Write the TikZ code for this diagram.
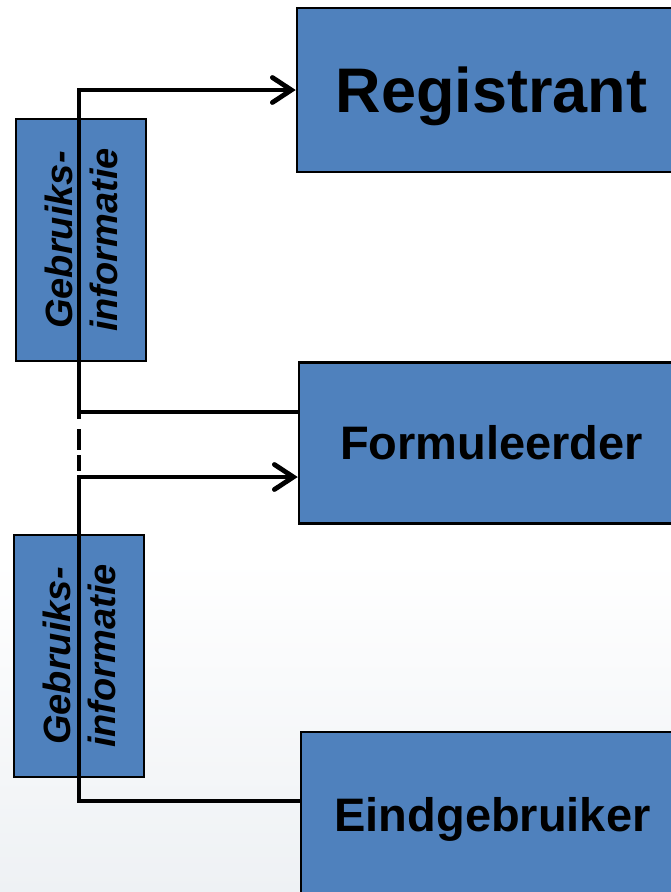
\documentclass[tikz,border=0pt]{standalone}
\usepackage{fontspec}
\setmainfont{Liberation Sans}
\usetikzlibrary{arrows.meta}
\definecolor{boxblue}{HTML}{4F81BD}
\definecolor{bggray}{HTML}{EEF1F4}
\begin{document}
\begin{tikzpicture}[x=1pt,y=-1pt,
  actor/.style={draw=black,line width=2.5pt,fill=boxblue,inner sep=0pt,
    text depth=0pt,font=\bfseries},
  infobox/.style={draw=black,line width=2.3pt,fill=boxblue,inner sep=0pt,rotate=90,
    minimum width=242pt,minimum height=130pt,align=center,
    font=\bfseries\itshape\fontsize{38}{45}\selectfont},
  conn/.style={draw=black,line width=4.8pt},
  tip/.style={-{Straight Barb[length=19pt,width=25pt,line cap=round]}}]
\useasboundingbox (0,0) rectangle (671,892);
\fill[white] (0,0) rectangle (671,892);
\shade[top color=white,bottom color=bggray] (0,560) rectangle (671,892);
\begin{scope}
\clip (0,0) rectangle (671,892);
\node[actor,minimum width=389pt,minimum height=164pt,text height=45pt,
  font=\bfseries\fontsize{63}{70}\selectfont] (reg) at (491.5,90) {Registrant};
\node[actor,minimum width=385pt,minimum height=161pt,text height=33.7pt,
  font=\bfseries\fontsize{47}{54}\selectfont] (form) at (491.5,443) {Formuleerder};
\node[actor,minimum width=383pt,minimum height=166pt,text height=33.7pt,
  font=\bfseries\fontsize{47}{54}\selectfont] (eind) at (492.5,815) {Eindgebruiker};
\end{scope}
\node[infobox] (info1) at (81,240) {Gebruiks-\\informatie};
\node[infobox] (info2) at (79,656) {Gebruiks-\\informatie};
\coordinate (j1) at (79,412);
\coordinate (j2) at (79,477);
\coordinate (j3) at (79,801);
\draw[conn,tip] (j1 -| form.west) -- (j1) |- (reg.west);
\draw[conn,dash pattern=on 7pt off 10pt on 21pt off 5pt on 16pt off 20pt] (j1) -- (j2);
\draw[conn,tip] (j3 -| eind.west) -- (j3) |- (j2 -| form.west);
\end{tikzpicture}
\end{document}
